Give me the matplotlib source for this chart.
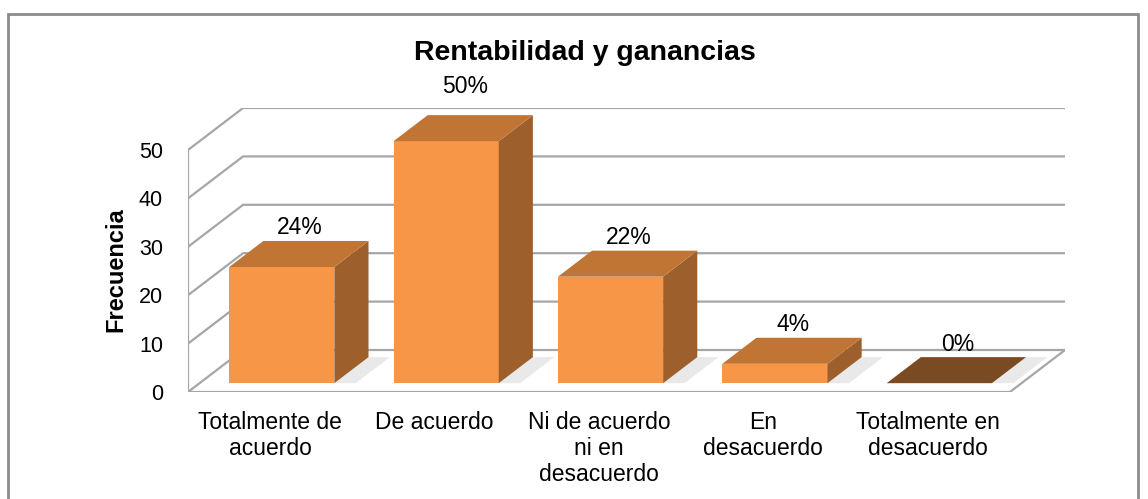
import numpy as np
import matplotlib.pyplot as plt
from matplotlib.patches import Polygon, Rectangle

plt.rcParams['font.family'] = ['Liberation Sans', 'DejaVu Sans']

categorias = ['Totalmente de\nacuerdo', 'De acuerdo', 'Ni de acuerdo\nni en\ndesacuerdo',
              'En\ndesacuerdo', 'Totalmente en\ndesacuerdo']
frecuencia = [24, 50, 22, 4, 0]
porcentajes = ['24%', '50%', '22%', '4%', '0%']
yticks = [0, 10, 20, 30, 40, 50]
# spostamento verticale delle etichette (punti)
desp_etiqueta = [1.5, 12, 1.5, 1, 1]

# profondita' obliqua in unita' dati (effetto 3D stile Excel)
DX, DY = 0.335, 8.68
F0, FD = 0.21, 0.62   # posizione e profondita' delle barre (frazione della profondita')
W = 0.64

C_FRONT = '#F79646'
C_SIDE = '#9D5F2C'
C_TOP = '#C17535'
C_TOP0 = '#7A4A22'
C_GRID = '#A6A6A6'

W_px, H_px = 1148, 499
fig = plt.figure(figsize=(W_px / 100, H_px / 100), dpi=100)
ax = fig.add_axes([188 / W_px, 1 - 392 / H_px, (1065 - 188) / W_px, (392 - 108) / H_px])
n = len(frecuencia)
ax.set_xlim(-0.5, n - 0.5 + DX)
ax.set_ylim(0, 50 + DY)
for s in ax.spines.values():
    s.set_visible(False)

# pareti e pavimento
for v in yticks:
    ax.plot([-0.5, -0.5 + DX, n - 0.5 + DX], [v, v + DY, v + DY], color=C_GRID, lw=1.6,
            solid_capstyle='butt', zorder=1)
ax.plot([-0.5, -0.5], [0, 50], color=C_GRID, lw=1.6, zorder=1)
ax.plot([-0.5, n - 0.5, n - 0.5 + DX], [0, 0, DY], color=C_GRID, lw=1.6, zorder=1)

xs = np.arange(n)
y0 = F0 * DY
# ombre sul pavimento
for i in range(n):
    x0 = xs[i] - W / 2 + F0 * DX
    sh = Polygon([(x0 + W, y0), (x0 + W + 0.13, y0), (x0 + W + FD * DX + 0.13, y0 + FD * DY),
                  (x0 + W + FD * DX, y0 + FD * DY)], closed=True, fc='#E9E9E9', ec='none', zorder=2)
    ax.add_patch(sh)

ax.bar(xs + F0 * DX, frecuencia, width=W, bottom=y0, color=C_FRONT, zorder=3)
for i, v in enumerate(frecuencia):
    x0 = xs[i] - W / 2 + F0 * DX
    side = Polygon([(x0 + W, y0), (x0 + W + FD * DX, y0 + FD * DY),
                    (x0 + W + FD * DX, y0 + FD * DY + v), (x0 + W, y0 + v)],
                   closed=True, fc=C_SIDE, ec='none', zorder=3)
    top = Polygon([(x0, y0 + v), (x0 + W, y0 + v), (x0 + W + FD * DX, y0 + v + FD * DY),
                   (x0 + FD * DX, y0 + v + FD * DY)],
                  closed=True, fc=C_TOP if v > 0 else C_TOP0, ec='none', zorder=4)
    ax.add_patch(side)
    ax.add_patch(top)
    ax.annotate(porcentajes[i], (x0 + W / 2 + FD * DX / 2, y0 + v + FD * DY),
                xytext=(1, desp_etiqueta[i]), textcoords='offset points', ha='center',
                va='bottom', fontsize=16.5, annotation_clip=False, zorder=5)

ax.set_xticks(xs, categorias, fontsize=16.5, linespacing=1.15)
ax.set_yticks(yticks, [str(t) for t in yticks], fontsize=15.5)
ax.tick_params(axis='x', length=0, pad=14)
ax.tick_params(axis='y', length=0, pad=18)

fig.text(116 / W_px, 1 - 270 / H_px, 'Frecuencia', rotation=90, fontsize=17, fontweight='bold',
         ha='center', va='center')
fig.text(585 / W_px, 1 - 53 / H_px, 'Rentabilidad y ganancias', fontsize=20.5, fontweight='bold',
         ha='center', va='center')

fig.patches.append(Rectangle((8 / W_px, -0.1), (1138 - 8) / W_px, 1.1 - 14 / H_px,
                             transform=fig.transFigure, fill=False, ec='#8C8C8C', lw=2))

fig.savefig('out.png', dpi=100)
